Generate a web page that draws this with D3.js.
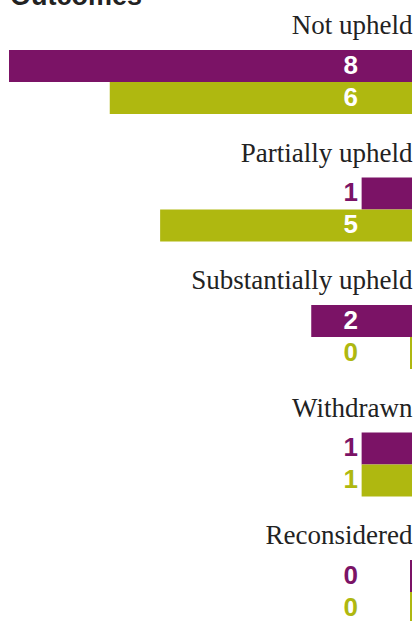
<!DOCTYPE html>
<html>
<head>
<meta charset="utf-8">
<script src="https://cdn.jsdelivr.net/npm/d3@7"></script>
<style>
  html, body { margin: 0; padding: 0; background: #fff; overflow: hidden; }
  svg { display: block; }
</style>
</head>
<body>
<svg id="chart" width="415" height="621"></svg>
<script>
// Complaint outcomes, two series per category
const categories = ["Not upheld", "Partially upheld", "Substantially upheld", "Withdrawn", "Reconsidered"];
const seriesA = [8, 1, 2, 1, 0];   // purple
const seriesB = [6, 5, 0, 1, 0];   // olive
const seriesColors = ["#7b1366", "#afb810"];

const W = 415, H = 621;
const right = 412;
const barH = 32;
const svg = d3.select("#chart");

// title, partly above the top edge
svg.append("text")
  .attr("x", 10).attr("y", 5)
  .attr("font-family", "'Liberation Sans', Arial, sans-serif")
  .attr("font-weight", "bold")
  .attr("font-size", 27)
  .attr("fill", "#222")
  .text("Outcomes");

// bars grow leftwards from the right edge
const x = d3.scaleLinear().domain([0, 8]).range([0, 403]);

// vertical position of each group's first bar
const y = d3.scalePoint().domain(categories).range([50, 560]);

const labelX = right - 54;

const rows = categories.map((c, i) => ({ cat: c, vals: [seriesA[i], seriesB[i]] }));

const g = svg.selectAll("g.group").data(rows).join("g")
  .attr("class", "group")
  .attr("transform", d => `translate(0,${y(d.cat)})`);

g.append("text")
  .attr("x", right + 0.5).attr("y", -16)
  .attr("text-anchor", "end")
  .attr("font-family", "'Liberation Serif', 'Times New Roman', serif")
  .attr("font-size", 27)
  .attr("fill", "#222")
  .text(d => d.cat);

const bars = g.selectAll("g.bar").data(d => d.vals.map((v, k) => ({ v, k }))).join("g")
  .attr("class", "bar")
  .attr("transform", d => `translate(0,${d.k * barH})`);

bars.append("rect")
  .attr("x", d => right - Math.max(x(d.v), 2))
  .attr("y", 0)
  .attr("width", d => Math.max(x(d.v), 2))
  .attr("height", barH)
  .attr("fill", d => seriesColors[d.k]);

bars.append("text")
  .attr("x", labelX)
  .attr("y", 23.5)
  .attr("text-anchor", "end")
  .attr("font-family", "'Liberation Sans', Arial, sans-serif")
  .attr("font-weight", "bold")
  .attr("font-size", 26)
  .attr("fill", d => (right - x(d.v) < labelX - 16) ? "#fff" : seriesColors[d.k])
  .text(d => d.v);
</script>
</body>
</html>
